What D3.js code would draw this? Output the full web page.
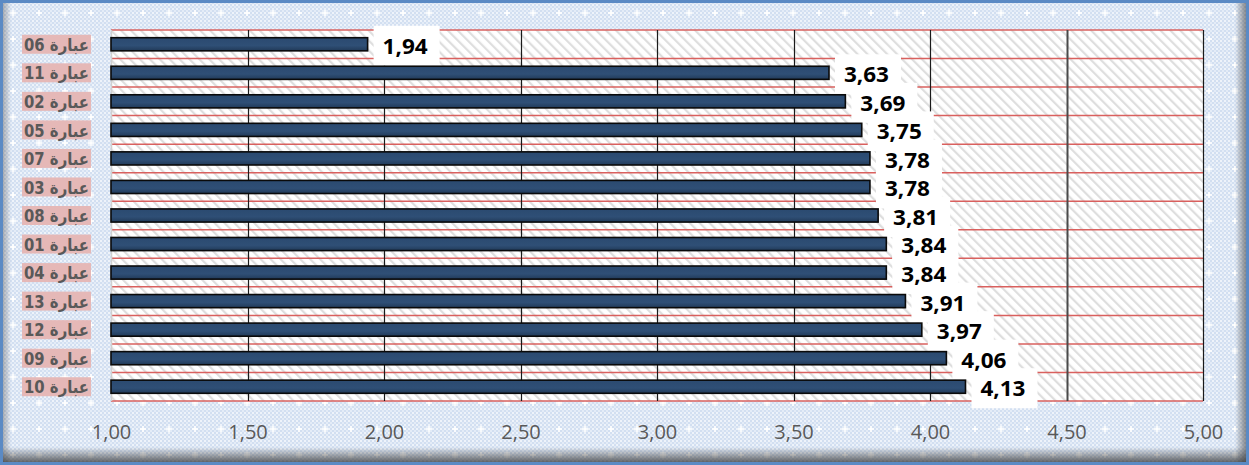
<!DOCTYPE html>
<html>
<head>
<meta charset="utf-8">
<script src="https://cdn.jsdelivr.net/npm/d3@7"></script>
<style>
  html, body { margin: 0; padding: 0; background: #ffffff; }
  svg { display: block; }
</style>
</head>
<body>
<svg id="chart" width="1249" height="465"></svg>
<script>
// Statements, listed top to bottom, with their mean scores
const categories = ["عبارة 06", "عبارة 11", "عبارة 02", "عبارة 05", "عبارة 07", "عبارة 03", "عبارة 08",
                    "عبارة 01", "عبارة 04", "عبارة 13", "عبارة 12", "عبارة 09", "عبارة 10"];
const values = [1.94, 3.63, 3.69, 3.75, 3.78, 3.78, 3.81, 3.84, 3.84, 3.91, 3.97, 4.06, 4.13];
const tickValues = [1.00, 1.50, 2.00, 2.50, 3.00, 3.50, 4.00, 4.50, 5.00];

const W = 1249, H = 465;
const plot = { left: 111, right: 1203, top: 30, bottom: 401 };
const fmt = v => d3.format(".2f")(v).replace(".", ",");

const svg = d3.select("#chart");
const defs = svg.append("defs");

// Light blue dotted backdrop
const dots = defs.append("pattern").attr("id", "dots")
  .attr("width", 4).attr("height", 4).attr("patternUnits", "userSpaceOnUse");
dots.append("rect").attr("width", 4).attr("height", 4).attr("fill", "#d2dff1");
dots.append("rect").attr("x", 0).attr("y", 0).attr("width", 2).attr("height", 2).attr("fill", "#eef3fa");
dots.append("rect").attr("x", 2).attr("y", 2).attr("width", 2).attr("height", 2).attr("fill", "#e4ecf7");

const stars = defs.append("pattern").attr("id", "stars")
  .attr("width", 26).attr("height", 26).attr("patternUnits", "userSpaceOnUse");
stars.append("rect").attr("x", 12).attr("y", 10).attr("width", 2).attr("height", 6).attr("fill", "#ffffff").attr("opacity", 0.8);
stars.append("rect").attr("x", 10).attr("y", 12).attr("width", 6).attr("height", 2).attr("fill", "#ffffff").attr("opacity", 0.8);

// Diagonal hatch of the plot area
const hatch = defs.append("pattern").attr("id", "hatch")
  .attr("width", 7).attr("height", 7).attr("patternUnits", "userSpaceOnUse")
  .attr("patternTransform", "rotate(-45)");
hatch.append("rect").attr("width", 7).attr("height", 7).attr("fill", "#ffffff");
hatch.append("rect").attr("width", 2.2).attr("height", 7).attr("fill", "#dedede");

// Inner shading of the frame
const shadeB = defs.append("linearGradient").attr("id", "shadeB").attr("x1", 0).attr("y1", 0).attr("x2", 0).attr("y2", 1);
shadeB.append("stop").attr("offset", "0").attr("stop-color", "#3a3a3a").attr("stop-opacity", 0);
shadeB.append("stop").attr("offset", "1").attr("stop-color", "#3a3a3a").attr("stop-opacity", 0.75);
const shadeR = defs.append("linearGradient").attr("id", "shadeR").attr("x1", 0).attr("y1", 0).attr("x2", 1).attr("y2", 0);
shadeR.append("stop").attr("offset", "0").attr("stop-color", "#3a3a3a").attr("stop-opacity", 0);
shadeR.append("stop").attr("offset", "1").attr("stop-color", "#3a3a3a").attr("stop-opacity", 0.55);
const shadeL = defs.append("linearGradient").attr("id", "shadeL").attr("x1", 1).attr("y1", 0).attr("x2", 0).attr("y2", 0);
shadeL.append("stop").attr("offset", "0").attr("stop-color", "#3a3a3a").attr("stop-opacity", 0);
shadeL.append("stop").attr("offset", "1").attr("stop-color", "#3a3a3a").attr("stop-opacity", 0.35);

const barGrad = defs.append("linearGradient").attr("id", "barGrad").attr("x1", 0).attr("y1", 0).attr("x2", 0).attr("y2", 1);
barGrad.append("stop").attr("offset", "0").attr("stop-color", "#2b4a70");
barGrad.append("stop").attr("offset", "0.6").attr("stop-color", "#2f4f76");
barGrad.append("stop").attr("offset", "1").attr("stop-color", "#213a58");

// Chart background and frame
svg.append("rect").attr("width", W).attr("height", H).attr("fill", "url(#dots)");
svg.append("rect").attr("width", W).attr("height", H).attr("fill", "url(#stars)");
svg.append("rect").attr("x", 0).attr("y", H - 18).attr("width", W).attr("height", 15).attr("fill", "url(#shadeB)");
svg.append("rect").attr("x", W - 14).attr("y", 0).attr("width", 11).attr("height", H).attr("fill", "url(#shadeR)");
svg.append("rect").attr("x", 3).attr("y", 0).attr("width", 8).attr("height", H).attr("fill", "url(#shadeL)");
svg.append("rect").attr("x", 1.5).attr("y", 1.5).attr("width", W - 3).attr("height", H - 3)
  .attr("fill", "none").attr("stroke", "#5b8ac4").attr("stroke-width", 3);

// Scales
const x = d3.scaleLinear().domain([1, 5]).range([plot.left, plot.right]);
const y = d3.scaleBand().domain(categories).range([plot.top, plot.bottom]).paddingInner(0.54).paddingOuter(0.27);
const band = d3.scaleBand().domain(categories).range([plot.top, plot.bottom]);

// Plot area
svg.append("rect").attr("x", plot.left).attr("y", plot.top)
  .attr("width", plot.right - plot.left).attr("height", plot.bottom - plot.top)
  .attr("fill", "url(#hatch)");

// Category separators (red)
const seps = categories.map(c => band(c)).concat([plot.bottom]);
svg.append("g").selectAll("line").data(seps).join("line")
  .attr("x1", plot.left).attr("x2", plot.right)
  .attr("y1", d => d).attr("y2", d => d)
  .attr("stroke", "#d9605e").attr("stroke-width", 1.5);

// Vertical gridlines
svg.append("g").selectAll("line").data(tickValues.slice(1)).join("line")
  .attr("x1", d => Math.round(x(d)) + 0.5).attr("x2", d => Math.round(x(d)) + 0.5)
  .attr("y1", plot.top).attr("y2", plot.bottom)
  .attr("stroke", d => d === 4.5 ? "#4a4a4a" : "#1a1a1a")
  .attr("stroke-width", d => d === 4.5 ? 2 : 1.2);

// Value axis baseline
svg.append("line").attr("x1", plot.left + 0.5).attr("x2", plot.left + 0.5)
  .attr("y1", plot.top).attr("y2", plot.bottom)
  .attr("stroke", "#d0d0d0").attr("stroke-width", 1.5);

// Value label backgrounds
const labelH = 40, labelW = 66;
const rows = categories.map((c, i) => ({ c, v: values[i] }));
svg.append("g").selectAll("rect").data(rows).join("rect")
  .attr("x", d => x(d.v) + 6)
  .attr("y", d => y(d.c) + y.bandwidth() / 2 + 1.5 - labelH / 2)
  .attr("width", labelW).attr("height", labelH)
  .attr("fill", "#ffffff");

// Bars
svg.append("g").selectAll("rect").data(rows).join("rect")
  .attr("x", x(1))
  .attr("y", d => y(d.c))
  .attr("width", d => x(d.v) - x(1))
  .attr("height", y.bandwidth())
  .attr("fill", "url(#barGrad)")
  .attr("stroke", "#0a0a0a").attr("stroke-width", 1.6);

// Value labels
svg.append("g").selectAll("text").data(rows).join("text")
  .attr("x", d => x(d.v) + 15)
  .attr("y", d => y(d.c) + y.bandwidth() / 2 + 1.5)
  .attr("dy", "0.36em")
  .attr("font-family", "'Open Sans', sans-serif")
  .attr("font-weight", 700).attr("font-size", 22)
  .attr("textLength", 45).attr("lengthAdjust", "spacingAndGlyphs")
  .attr("fill", "#000000")
  .text(d => fmt(d.v));

// Category labels on pink tags
const tagH = 19;
const catG = svg.append("g");
catG.selectAll("rect").data(categories).join("rect")
  .attr("x", 22).attr("width", 69)
  .attr("y", d => y(d) + y.bandwidth() / 2 - tagH / 2)
  .attr("height", tagH)
  .attr("fill", "#e5b8b7");
catG.selectAll("text").data(categories).join("text")
  .attr("x", 89)
  .attr("y", d => y(d) + y.bandwidth() / 2 + 0.5)
  .attr("dy", "0.36em")
  .attr("text-anchor", "end")
  .attr("font-family", "'DejaVu Sans', sans-serif")
  .attr("font-weight", 700).attr("font-size", 17)
  .attr("textLength", 65).attr("lengthAdjust", "spacingAndGlyphs")
  .attr("fill", "#595959")
  .text(d => d);

// Value axis tick labels
const axis = d3.axisBottom(x).tickValues(tickValues).tickFormat(fmt).tickSize(0).tickPadding(0);
const axG = svg.append("g").attr("transform", `translate(0, ${plot.bottom + 24})`).call(axis);
axG.select(".domain").remove();
axG.selectAll("text")
  .attr("font-family", "'Open Sans', sans-serif")
  .attr("font-size", 20)
  .attr("fill", "#595959");
</script>
</body>
</html>
